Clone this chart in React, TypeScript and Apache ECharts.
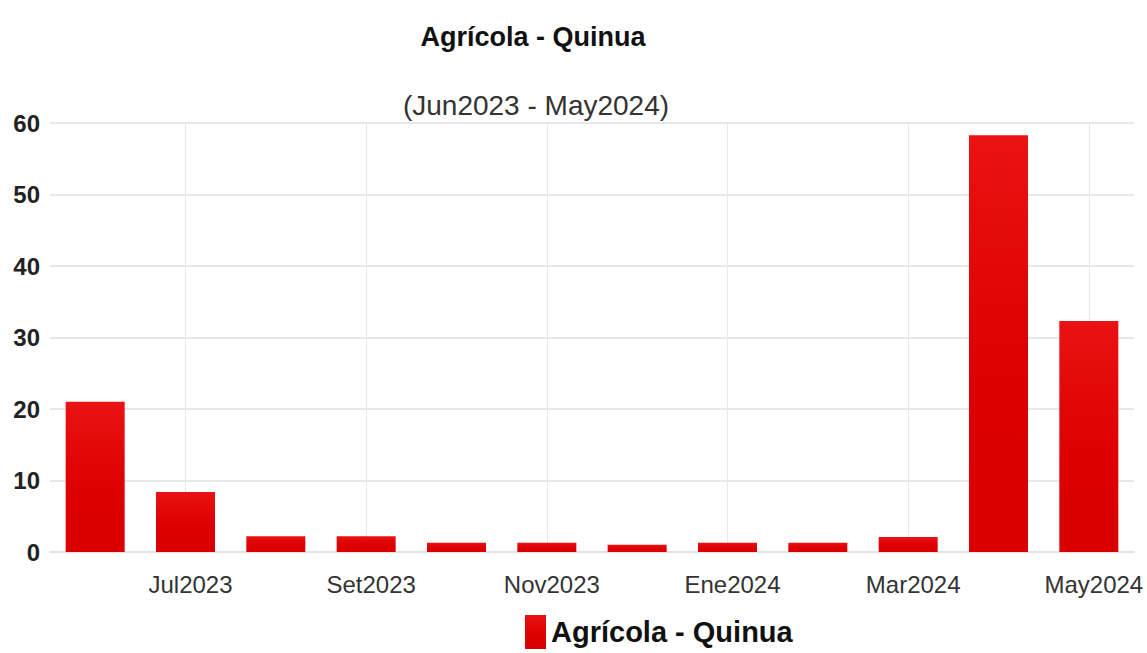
import React, { useEffect, useRef } from "react";
import * as echarts from "echarts";

const categories = [
  "Jun2023", "Jul2023", "Ago2023", "Set2023", "Oct2023", "Nov2023",
  "Dic2023", "Ene2024", "Feb2024", "Mar2024", "Abr2024", "May2024",
];
const values = [21.0, 8.4, 2.2, 2.2, 1.3, 1.3, 1.0, 1.3, 1.3, 2.1, 58.3, 32.3];
const seriesName = "Agrícola - Quinua";
const titleText = "Agrícola - Quinua";
const subtitleText = "(Jun2023 - May2024)";

export default function App() {
  const ref = useRef<HTMLDivElement>(null);
  useEffect(() => {
    if (!ref.current) return;
    const chart = echarts.init(ref.current, undefined, { renderer: "svg" });
    const font = "'Liberation Sans', Arial, sans-serif";
    chart.setOption({
      animation: false,
      backgroundColor: "#ffffff",
      textStyle: { fontFamily: font },
      title: [
        {
          text: titleText,
          left: 528,
          top: 18,
          textAlign: "center",
          textStyle: { fontSize: 27, fontWeight: "bold", color: "#111", fontFamily: font },
        },
        {
          text: subtitleText,
          left: 531,
          top: 86,
          textAlign: "center",
          textStyle: { fontSize: 28, fontWeight: "normal", color: "#333", fontFamily: font },
        },
      ],
      legend: {
        data: [seriesName],
        left: 525,
        top: 615,
        icon: "rect",
        itemWidth: 21,
        itemHeight: 34,
        itemGap: 9,
        padding: 0,
        textStyle: { fontSize: 29, fontWeight: "bold", color: "#111", fontFamily: font, lineHeight: 30 },
      },
      grid: { left: 50, right: 13, top: 123, bottom: 101, containLabel: false },
      xAxis: {
        type: "category",
        data: categories,
        axisLine: { show: true, lineStyle: { color: "#e2e2e2", width: 2 } },
        axisTick: { show: false, alignWithLabel: true },
        splitLine: {
          show: true,
          alignWithLabel: true,
          interval: (i: number) => i % 2 === 1,
          lineStyle: { color: "#e8e8e8", width: 1 },
        },
        axisLabel: {
          interval: (i: number) => i % 2 === 1,
          fontSize: 24,
          color: "#333",
          margin: 20,
          padding: [0, 0, 0, 10],
          fontFamily: font,
        },
      },
      yAxis: {
        type: "value",
        min: 0,
        max: 60,
        interval: 10,
        axisLine: { show: false },
        axisTick: { show: false },
        splitLine: { show: true, lineStyle: { color: "#e8e8e8", width: 2 } },
        axisLabel: {
          fontSize: 24,
          fontWeight: "bold",
          color: "#222",
          margin: 10,
          fontFamily: font,
        },
      },
      series: [
        {
          name: seriesName,
          type: "bar",
          data: values,
          barWidth: 59,
          itemStyle: {
            color: new echarts.graphic.LinearGradient(0, 0, 0, 1, [
              { offset: 0, color: "#ea1212" },
              { offset: 0.6, color: "#dc0000" },
              { offset: 1, color: "#da0000" },
            ]),
          },
        },
      ],
    });
    return () => chart.dispose();
  }, []);
  return (
    <div
      ref={ref}
      style={{ position: "fixed", left: 0, top: 0, width: 1147, height: 653 }}
    />
  );
}
